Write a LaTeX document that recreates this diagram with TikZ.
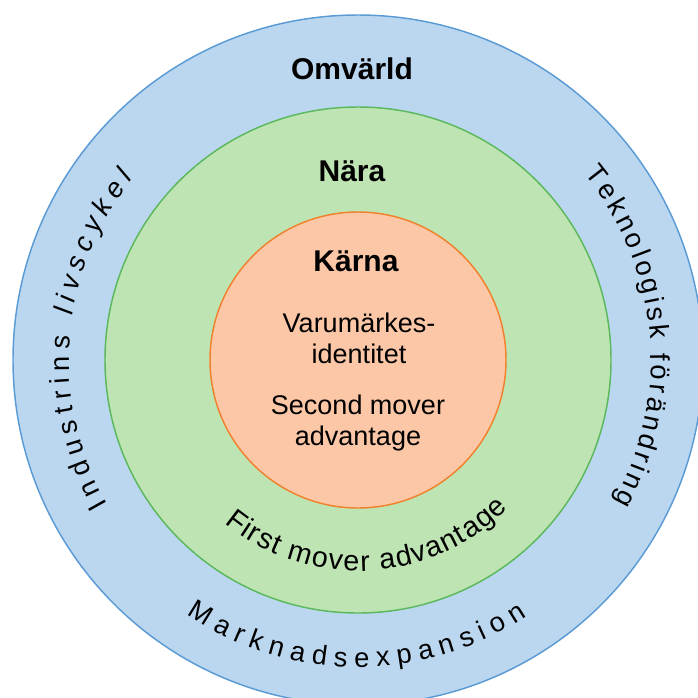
\documentclass[tikz,border=0pt]{standalone}
\usepackage{fontspec}
\setmainfont{Liberation Sans}
\usetikzlibrary{decorations.text}

\definecolor{omvfill}{HTML}{BBD7F0}
\definecolor{omvline}{HTML}{5B9BD5}
\definecolor{narafill}{HTML}{BFE4B3}
\definecolor{naraline}{HTML}{5CB85C}
\definecolor{karnfill}{HTML}{FCC7A7}
\definecolor{karnline}{HTML}{F0822D}

\newcommand{\ringfont}{\fontsize{20.5}{20.5}\selectfont}

\begin{document}
\begin{tikzpicture}[x=0.75pt, y=0.75pt,
    every node/.style={font=\fontsize{20.25}{23.25}\selectfont, align=center},
    heading/.style={font=\fontsize{22.5}{26}\selectfont\bfseries, anchor=base},
    arctext/.style={decorate, decoration={text along path, text align={fit to path}, text={#1}}}]
  \useasboundingbox (-358,-337) rectangle (340,360);
  \clip (-358,-337) rectangle (340,360);

  % three rings
  \filldraw[fill=omvfill, draw=omvline, line width=1.1pt] (0,0) circle (345);
  \filldraw[fill=narafill, draw=naraline, line width=1.1pt] (0,0) circle (253);
  \filldraw[fill=karnfill, draw=karnline, line width=1.1pt] (0,0) circle (148);

  \node[heading] (omv) at (-6,281) {Omvärld};
  \node[heading] (nara) at (-6,179) {Nära};
  \node[heading] (karna) at (-2,89) {Kärna};
  \node[anchor=base] (varu) at (1,-3) {Varumärkes-\\identitet};
  \node[anchor=base] (second) at (0,-85) {Second mover\\advantage};

  % texts along the rings
  \path[arctext={|\ringfont|Industrins |\ringfont\itshape|livscykel}]
    (210:289) arc[start angle=210, end angle=141, radius=289];
  \path[arctext={|\ringfont|Teknologisk förändring}]
    (39.5:293) arc[start angle=39.5, end angle=-29, radius=293];
  \path[arctext={|\ringfont|Marknadsexpansion}]
    (236:307) arc[start angle=236, end angle=303.5, radius=307];
  \path[arctext={|\fontsize{21.5}{21.5}\selectfont|First mover advantage}]
    (230.7:211) arc[start angle=230.7, end angle=315.4, radius=211];
\end{tikzpicture}
\end{document}
